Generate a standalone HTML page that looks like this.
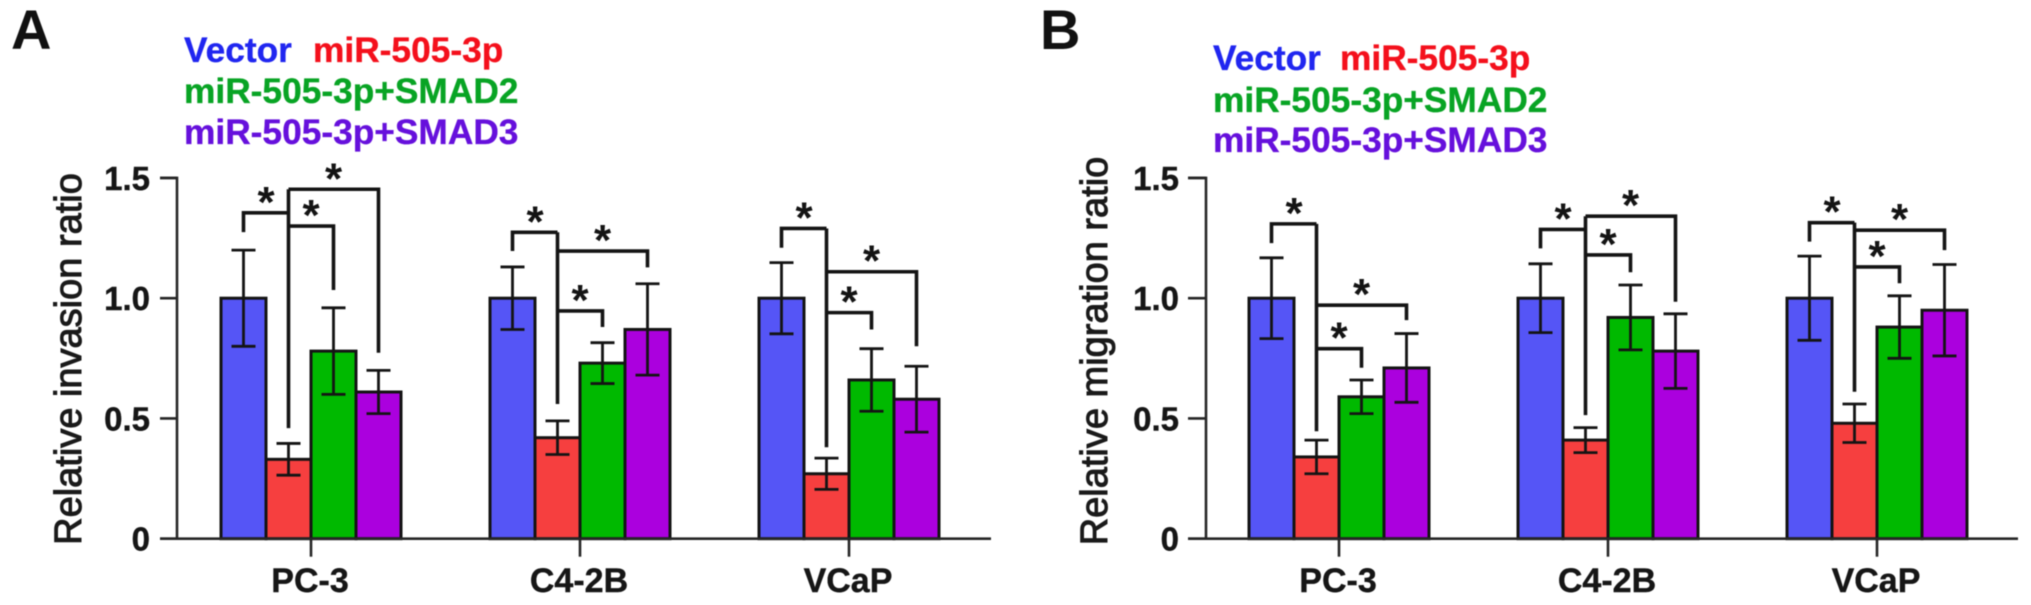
<!DOCTYPE html>
<html lang="en">
<head>
<meta charset="utf-8">
<title>Relative invasion and migration ratios</title>
<style>
html,body{margin:0;padding:0;background:#fff;width:2031px;height:605px;overflow:hidden}
svg{display:block;filter:blur(.5px)}
text{font-family:"Liberation Sans",sans-serif}
.b{font-weight:700}
.lg{font-weight:700;font-size:35.3px;stroke-width:.35px}
</style>
</head>
<body>
<svg id="figure" xmlns="http://www.w3.org/2000/svg" width="2031" height="605" viewBox="0 0 2031 605">
  <rect width="2031" height="605" fill="#fff"/>

  <text class="b" x="11" y="49" font-size="56" fill="#111">A</text>
  <text class="b" x="1040" y="49" font-size="56" fill="#111">B</text>

  <g>
    <text class="lg" x="184" y="62" fill="#2026f0" stroke="#2026f0">Vector</text>
    <text class="lg" x="313" y="62" fill="#f4101c" stroke="#f4101c">miR-505-3p</text>
    <text class="lg" x="184" y="103" fill="#08a424" stroke="#08a424">miR-505-3p+SMAD2</text>
    <text class="lg" x="184" y="144" fill="#6610dc" stroke="#6610dc">miR-505-3p+SMAD3</text>
  </g>
  <g>
    <text class="lg" x="1213" y="70" fill="#2026f0" stroke="#2026f0">Vector</text>
    <text class="lg" x="1340" y="70" fill="#f4101c" stroke="#f4101c">miR-505-3p</text>
    <text class="lg" x="1213" y="112" fill="#08a424" stroke="#08a424">miR-505-3p+SMAD2</text>
    <text class="lg" x="1213" y="152" fill="#6610dc" stroke="#6610dc">miR-505-3p+SMAD3</text>
  </g>
</svg>
<script>
// ----- shared chart data -----
const categories = ['PC-3', 'C4-2B', 'VCaP'];
const seriesNames = ['vector', 'mir-505-3p', 'smad2', 'smad3'];
const tickValues = [0, 0.5, 1.0, 1.5];
const tickLabels = ['0', '0.5', '1.0', '1.5'];

// ----- panel A: invasion (one row per category, one entry per series) -----
const invasionValues = [
  [1.00, 0.33, 0.78, 0.61],
  [1.00, 0.42, 0.73, 0.87],
  [1.00, 0.27, 0.66, 0.58]
];
const invasionErrors = [
  [0.20, 0.066, 0.18, 0.09],
  [0.13, 0.07, 0.085, 0.19],
  [0.148, 0.065, 0.13, 0.137]
];
// significance brackets, data units: [level, blue end, red end]
const invasionBlueRed = [[1.355, 1.275, 0.46], [1.274, 1.196, 0.56], [1.29, 1.21, 0.38]];
// [level, end]
const invasionGreen = [[1.30, 1.034], [0.947, 0.88], [0.94, 0.87]];
const invasionPurple = [[1.453, 0.773], [1.196, 1.128], [1.11, 0.80]];

// ----- panel B: migration -----
const migrationValues = [
  [1.00, 0.34, 0.59, 0.71],
  [1.00, 0.41, 0.92, 0.78],
  [1.00, 0.48, 0.88, 0.95]
];
const migrationErrors = [
  [0.168, 0.07, 0.07, 0.143],
  [0.143, 0.052, 0.135, 0.155],
  [0.175, 0.08, 0.13, 0.19]
];
const migrationBlueRed = [[1.309, 1.229, 0.447], [1.286, 1.207, 0.514], [1.314, 1.235, 0.611]];
const migrationGreen = [[0.79, 0.711], [1.18, 1.108], [1.13, 1.062]];
const migrationPurple = [[0.971, 0.909], [1.341, 0.985], [1.283, 1.20]];

// ----- drawing -----
const NS = 'http://www.w3.org/2000/svg';
const svg = document.getElementById('figure');
const INK = '#141414';
const FILLS = ['#5555f6', '#f63f3f', '#00b900', '#ab00de'];

function mk(parent, tag, attrs, text) {
  const el = document.createElementNS(NS, tag);
  for (const k in attrs) el.setAttribute(k, attrs[k]);
  if (text !== undefined) el.textContent = text;
  parent.appendChild(el);
  return el;
}

function drawPanel(cfg) {
  const yScale = v => cfg.y0 - v * cfg.yUnit;
  const barX = (g, s) => cfg.firstBar + g * cfg.groupStep + s * cfg.barW;
  const barMid = (g, s) => barX(g, s) + cfg.barW / 2;
  const groupMid = g => barX(g, 2);

  const root = mk(svg, 'g', {});
  
  

  // y-axis title
  const title = mk(root, 'text', {
    x: 0, y: 0, 'font-size': cfg.titleSize, 'text-anchor': 'middle', fill: '#1a1a1a',
    stroke: '#1a1a1a', 'stroke-width': 1,
    transform: 'translate(' + cfg.titleX + ',' + cfg.titleY + ') rotate(-90)'
  }, cfg.title);
  
  

  // bars
  categories.forEach((cat, g) => {
    seriesNames.forEach((sn, s) => {
      const v = cfg.values[g][s];
      const bar = mk(root, 'rect', {
        x: barX(g, s), y: yScale(v), width: cfg.barW, height: yScale(0) - yScale(v),
        fill: FILLS[s], stroke: INK, 'stroke-width': 3
      });
      
      
    });
  });

  // error bars
  categories.forEach((cat, g) => {
    seriesNames.forEach((sn, s) => {
      const v = cfg.values[g][s];
      const e = cfg.errors[g][s];
      const cx = barMid(g, s);
      const top = yScale(v + e);
      const bot = yScale(v - e);
      const d = 'M' + (cx - 12) + ' ' + top + 'H' + (cx + 12) +
                'M' + cx + ' ' + top + 'V' + bot +
                'M' + (cx - 12) + ' ' + bot + 'H' + (cx + 12);
      const err = mk(root, 'path', { d: d, fill: 'none', stroke: INK, 'stroke-width': 2.8 });
      
      
    });
  });

  // axes
  const axis = mk(root, 'path', {
    d: 'M' + cfg.tickLeft + ' ' + yScale(1.5) + 'H' + cfg.axisX + 'V' + yScale(0) +
       'M' + cfg.tickLeft + ' ' + yScale(0) + 'H' + cfg.axisEnd,
    fill: 'none', stroke: '#262626', 'stroke-width': 2.6
  });
  
  

  tickValues.forEach((v, i) => {
    const tick = mk(root, 'line', {
      x1: cfg.tickLeft, x2: cfg.axisX, y1: yScale(v), y2: yScale(v), stroke: '#262626', 'stroke-width': 2.6
    });
    
    
    const label = mk(root, 'text', {
      x: cfg.tickLabelX, y: yScale(v) + 12, 'font-size': 33, 'font-weight': 700,
      'text-anchor': 'end', fill: '#161616', stroke: '#161616', 'stroke-width': 0.4
    }, tickLabels[i]);
    
    
  });

  categories.forEach((cat, g) => {
    const tick = mk(root, 'line', {
      x1: groupMid(g), x2: groupMid(g), y1: yScale(0), y2: yScale(0) + 18, stroke: '#262626', 'stroke-width': 2.6
    });
    
    
    const label = mk(root, 'text', {
      x: groupMid(g) - 1, y: 592, 'font-size': 34, 'font-weight': 700,
      'text-anchor': 'middle', fill: '#161616', stroke: '#161616', 'stroke-width': 0.4
    }, cat);
    
    
  });

  // significance brackets
  function star(parent, x, level) {
    const s = mk(parent, 'text', {
      x: x, y: yScale(level) + 4, 'font-size': 44, 'font-weight': 700,
      'text-anchor': 'middle', fill: '#141414'
    }, '*');
    
    
  }
  function bracketPath(parent, d, name) {
    const p = mk(parent, 'path', {
      d: d, fill: 'none', stroke: INK, 'stroke-width': 3.6, 'stroke-linejoin': 'miter'
    });
    
    
  }
  categories.forEach((cat, g) => {
    const gb = mk(root, 'g', {});
    
    
    const blueRed = cfg.blueRed[g];
    const green = cfg.green[g];
    const purple = cfg.purple[g];
    const xb = barMid(g, 0), xr = barMid(g, 1), xg = barMid(g, 2), xp = barMid(g, 3);
    const topLevel = Math.max(blueRed[0], green[0], purple[0]);

    bracketPath(gb, 'M' + xb + ' ' + yScale(blueRed[1]) + 'V' + yScale(blueRed[0]) + 'H' + xr, 'bracket-vector-mir');
    bracketPath(gb, 'M' + xr + ' ' + yScale(topLevel) + 'V' + yScale(blueRed[2]), 'bracket-stem-mir');
    bracketPath(gb, 'M' + xr + ' ' + yScale(green[0]) + 'H' + xg + 'V' + yScale(green[1]), 'bracket-mir-smad2');
    bracketPath(gb, 'M' + xr + ' ' + yScale(purple[0]) + 'H' + xp + 'V' + yScale(purple[1]), 'bracket-mir-smad3');

    star(gb, (xb + xr) / 2, blueRed[0]);
    star(gb, (xr + xg) / 2, green[0]);
    star(gb, (xr + xp) / 2, purple[0]);
  });
}

drawPanel({
  name: 'chart-invasion', title: 'Relative invasion ratio',
  values: invasionValues, errors: invasionErrors,
  blueRed: invasionBlueRed, green: invasionGreen, purple: invasionPurple,
  y0: 538.7, yUnit: 240.5, firstBar: 221, groupStep: 269, barW: 45,
  axisX: 177, tickLeft: 160, axisEnd: 991, tickLabelX: 150,
  titleX: 81, titleY: 359, titleSize: 38
});
drawPanel({
  name: 'chart-migration', title: 'Relative migration ratio',
  values: migrationValues, errors: migrationErrors,
  blueRed: migrationBlueRed, green: migrationGreen, purple: migrationPurple,
  y0: 538.7, yUnit: 240.5, firstBar: 1249, groupStep: 269, barW: 45,
  axisX: 1206, tickLeft: 1188, axisEnd: 2018, tickLabelX: 1179,
  titleX: 1107, titleY: 351, titleSize: 38
});
</script>
</body>
</html>
